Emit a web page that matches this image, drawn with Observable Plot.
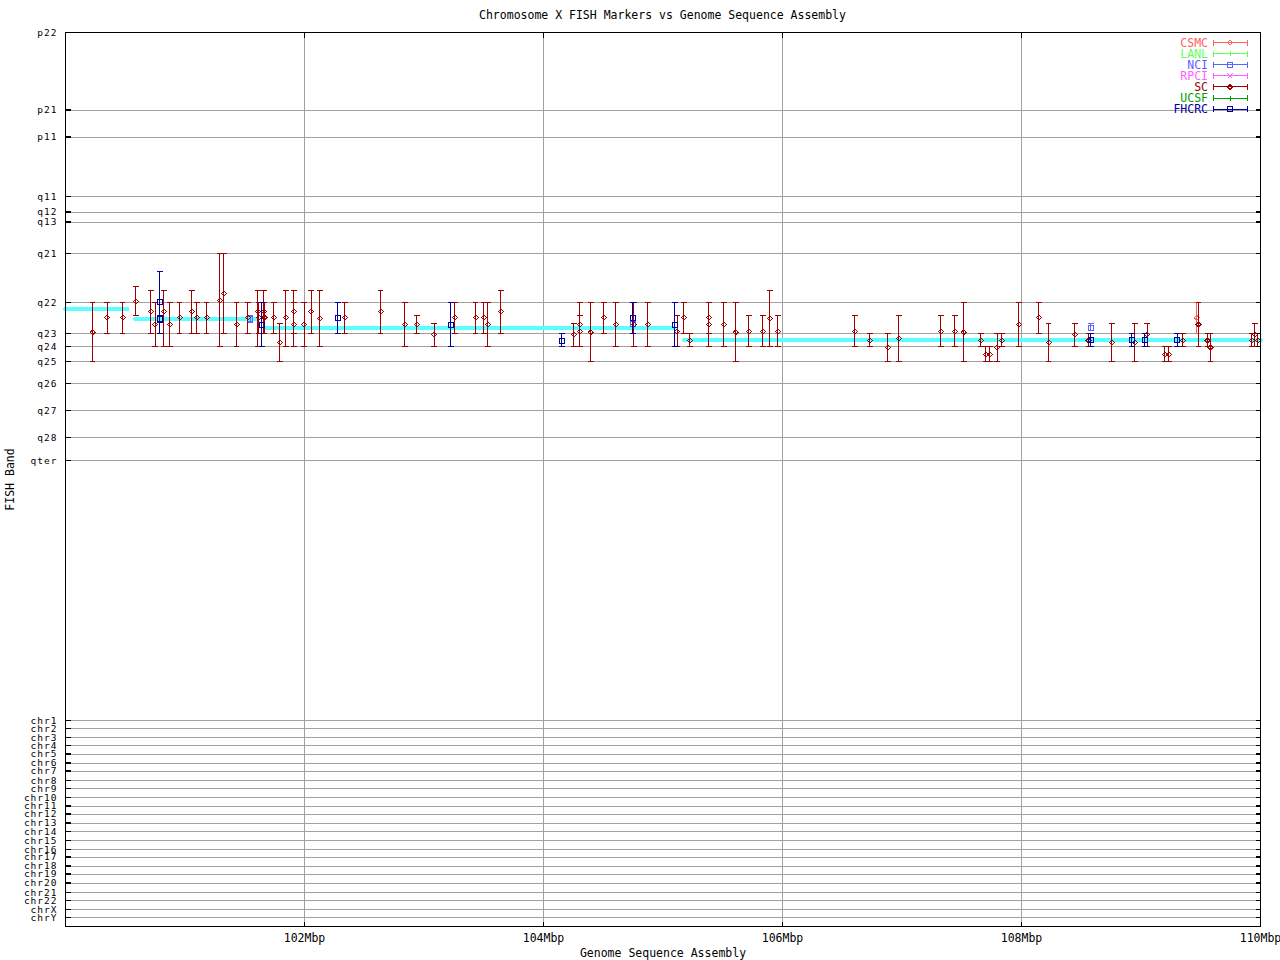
<!DOCTYPE html>
<html>
<head>
<meta charset="utf-8">
<script src="https://cdn.jsdelivr.net/npm/d3@7"></script>
<script src="https://cdn.jsdelivr.net/npm/@observablehq/plot@0.6"></script>
<style>
  body { margin: 0; background: #fff; }
  #wrap { position: relative; width: 1280px; height: 960px; font-family: 'DejaVu Sans Mono', monospace; }
  #title { height: 24px; box-sizing: border-box; padding: 9px 20px 0 65px; font-size: 11.5px; line-height: 12px; text-align: center; color: #000; }
  #legend { position: absolute; left: 0; top: 0; pointer-events: none; }
  g[aria-label="y-axis tick label"] text { font-size: 9.5px; letter-spacing: 1px; }
</style>
</head>
<body>
<div id="wrap">
  <div id="title">Chromosome X FISH Markers vs Genome Sequence Assembly</div>
  <div id="chart"></div>
</div>
<script>
// ---------- tick labels ----------
const xTickValues = [102, 104, 106, 108, 110];
const xGridValues = [102, 104, 106, 108];
const bandLabels = ["p22","p21","p11","q11","q12","q13","q21","q22","q23","q24","q25","q26","q27","q28","qter",
  "chr1","chr2","chr3","chr4","chr5","chr6","chr7","chr8","chr9","chr10","chr11","chr12","chr13","chr14",
  "chr15","chr16","chr17","chr18","chr19","chr20","chr21","chr22","chrX","chrY"];
const bandValues = [0, 7.77, 10.47, 16.40, 17.97, 18.97, 22.10, 27.00, 30.10, 31.40, 32.90, 35.10, 37.80, 40.50, 42.80,
  68.80, 69.60, 70.50, 71.30, 72.17, 73.07, 73.87, 74.80, 75.60, 76.50, 77.37, 78.17, 79.07, 79.90,
  80.80, 81.70, 82.47, 83.37, 84.17, 85.07, 86.00, 86.80, 87.70, 88.50];
const bandDomain = [0, 89.4];
const mbpDomain = [100, 110];

// ---------- sources ----------
const sources = ["CSMC", "LANL", "NCI", "RPCI", "SC", "UCSF", "FHCRC"];
const sourceColors = ["#ff6060", "#60ff60", "#6060ff", "#ff60ff", "#a00000", "#00a000", "#0000a0"];
const sourceSymbols = ["diamond", "plus", "square", "times", "diamond", "plus", "square"];

// ---------- sequence assembly (cyan) ----------
const assemblyStart = [100.0, 100.586, 101.688, 105.18];
const assemblyEnd   = [100.516, 101.604, 105.088, 110.0];
const assemblyBand  = [27.67, 28.67, 29.54, 30.77];

// ---------- FISH markers: [Mbp, band from, band centre, band to] ----------
const CSMC = [
  [109.467, 27.00, 28.54, 30.10]
];
const LANL = [];
const NCI = [
  [101.548, 28.34, 28.67, 29.04],
  [104.747, 28.77, 29.10, 29.37],
  [108.580, 29.10, 29.54, 29.84]
];
const RPCI = [];
const SC = [
  [100.228, 27.00, 29.97, 32.90], [100.349, 27.00, 28.50, 30.10], [100.479, 27.00, 28.50, 30.10],
  [100.588, 25.44, 26.90, 28.30], [100.714, 25.82, 27.90, 30.10], [100.751, 27.00, 29.20, 31.40],
  [100.824, 25.82, 27.90, 31.40], [100.873, 27.00, 29.20, 31.40], [100.956, 27.00, 28.50, 30.10],
  [101.057, 25.82, 27.90, 30.10], [101.099, 27.00, 28.50, 30.10], [101.182, 27.00, 28.50, 30.10],
  [101.291, 22.10, 26.80, 31.40], [101.325, 22.10, 26.10, 30.10], [101.433, 27.00, 29.20, 31.40],
  [101.527, 27.00, 28.50, 30.10], [101.609, 25.82, 27.90, 31.40], [101.619, 27.00, 28.50, 30.10],
  [101.659, 25.82, 27.90, 30.10], [101.665, 27.00, 28.50, 30.10], [101.743, 27.00, 28.50, 30.10],
  [101.793, 29.10, 31.00, 32.90], [101.844, 25.82, 28.50, 31.40], [101.912, 25.82, 27.90, 30.10],
  [101.912, 27.00, 29.20, 31.40], [101.997, 27.00, 29.20, 31.40], [102.056, 25.82, 27.90, 30.10],
  [102.128, 25.82, 28.60, 31.40], [102.337, 27.00, 28.50, 30.10], [102.638, 25.82, 27.90, 30.10],
  [102.839, 27.00, 29.20, 31.40], [102.940, 28.30, 29.20, 30.10], [103.085, 29.10, 30.20, 31.40],
  [103.258, 27.00, 28.50, 30.10], [103.433, 27.00, 28.50, 30.10], [103.500, 27.00, 28.50, 30.10],
  [103.534, 27.00, 29.20, 31.40], [103.643, 25.82, 27.90, 30.10], [104.254, 29.10, 30.20, 31.40],
  [104.304, 27.00, 29.20, 31.40], [104.304, 28.30, 29.90, 31.40], [104.396, 27.00, 29.97, 32.90],
  [104.505, 27.00, 28.50, 30.10], [104.605, 27.00, 29.20, 31.40], [104.756, 27.00, 29.20, 31.40],
  [104.873, 27.00, 29.20, 31.40], [105.119, 28.30, 29.90, 31.40], [105.174, 27.00, 28.50, 30.10],
  [105.224, 30.10, 30.80, 31.40], [105.383, 27.00, 28.50, 30.10], [105.383, 27.00, 29.20, 31.40],
  [105.509, 27.00, 29.20, 31.40], [105.609, 27.00, 29.97, 32.90], [105.718, 28.30, 29.90, 31.40],
  [105.835, 28.30, 29.90, 31.40], [105.894, 25.82, 28.60, 31.40], [105.961, 28.30, 29.90, 31.40],
  [106.605, 28.30, 29.90, 31.40], [106.731, 30.10, 30.80, 31.40], [106.881, 30.10, 31.50, 32.90],
  [106.973, 28.30, 30.60, 32.90], [107.325, 28.30, 29.90, 31.40], [107.442, 28.30, 29.90, 31.40],
  [107.517, 27.00, 29.97, 32.90], [107.659, 30.10, 30.80, 31.40], [107.701, 31.40, 32.20, 32.90],
  [107.735, 31.40, 32.20, 32.90], [107.795, 30.10, 31.50, 32.90], [107.835, 30.10, 30.80, 31.40],
  [107.977, 27.00, 29.20, 31.40], [108.145, 27.00, 28.50, 30.10], [108.228, 29.12, 31.00, 32.90],
  [108.446, 29.12, 30.20, 31.40], [108.561, 30.10, 30.80, 31.40], [108.756, 29.12, 31.00, 32.90],
  [108.948, 29.12, 31.00, 32.90], [109.052, 29.12, 30.20, 31.40], [109.199, 31.40, 32.20, 32.90],
  [109.233, 31.40, 32.20, 32.90], [109.350, 30.10, 30.80, 31.40], [109.481, 27.00, 29.20, 31.40],
  [109.556, 30.10, 30.80, 31.40], [109.582, 30.10, 31.50, 32.90], [109.927, 30.10, 30.80, 31.40],
  [109.952, 29.12, 30.20, 31.40], [109.977, 30.10, 30.80, 31.40]
];
const UCSF = [];
const FHCRC = [
  [100.789, 23.87, 26.97, 30.10], [100.789, 28.30, 28.62, 29.00], [101.643, 27.00, 29.20, 31.40],
  [102.279, 27.00, 28.50, 30.10], [103.224, 27.00, 29.20, 31.40], [104.153, 30.10, 30.80, 31.40],
  [104.747, 27.00, 28.50, 30.10], [105.099, 27.00, 29.20, 31.40], [108.580, 30.10, 30.77, 31.40],
  [108.923, 30.10, 30.77, 31.40], [109.032, 30.10, 30.77, 31.40], [109.303, 30.10, 30.77, 31.40]
];
const markersBySource = [CSMC, LANL, NCI, RPCI, SC, UCSF, FHCRC];

// ---------- symbols ----------
const S = 2.5;
const symbolDefs = {
  diamond: {draw(c) { c.moveTo(0, -S); c.lineTo(S, 0); c.lineTo(0, S); c.lineTo(-S, 0); c.closePath(); }},
  square: {draw(c) { c.moveTo(-S, -S); c.lineTo(S, -S); c.lineTo(S, S); c.lineTo(-S, S); c.closePath(); }},
  plus: {draw(c) { c.moveTo(-S, 0); c.lineTo(S, 0); c.moveTo(0, -S); c.lineTo(0, S); }},
  times: {draw(c) { c.moveTo(-S, -S); c.lineTo(S, S); c.moveTo(-S, S); c.lineTo(S, -S); }}
};
const capSym = {draw(c) { c.moveTo(-2.75, 0); c.lineTo(2.75, 0); }};
const tickLeft = {draw(c) { c.moveTo(0, 0); c.lineTo(5, 0); }};
const tickRight = {draw(c) { c.moveTo(-5, 0); c.lineTo(0, 0); }};
const tickTop = {draw(c) { c.moveTo(0, 0); c.lineTo(0, 5); }};
const tickBottom = {draw(c) { c.moveTo(0, -5); c.lineTo(0, 0); }};

// ---------- build ----------
const labelByValue = new Map(bandValues.map((v, i) => [v, bandLabels[i]]));
const assembly = assemblyStart.flatMap((s, i) => [
  {x: s, y: assemblyBand[i], seg: i},
  {x: assemblyEnd[i], y: assemblyBand[i], seg: i}
]);

const markerMarks = [];
sources.forEach((src, i) => {
  const data = markersBySource[i];
  if (!data.length) return;
  const color = sourceColors[i];
  markerMarks.push(
    Plot.ruleX(data, {x: d => d[0], y1: d => d[1], y2: d => d[3], stroke: color, strokeWidth: 1}),
    Plot.dot(data, {x: d => d[0], y: d => d[1], symbol: capSym, fill: "none", stroke: color, strokeWidth: 1}),
    Plot.dot(data, {x: d => d[0], y: d => d[3], symbol: capSym, fill: "none", stroke: color, strokeWidth: 1}),
    Plot.dot(data, {x: d => d[0], y: d => d[2], symbol: symbolDefs[sourceSymbols[i]], fill: "none", stroke: color, strokeWidth: 1})
  );
});

const chart = Plot.plot({
  width: 1280,
  height: 936,
  marginTop: 8,
  marginBottom: 34,
  marginLeft: 65,
  marginRight: 20,
  style: {fontFamily: "'DejaVu Sans Mono', monospace", fontSize: "11.5px", color: "#000", background: "#fff", shapeRendering: "crispEdges"},
  x: {domain: mbpDomain},
  y: {domain: bandDomain, reverse: true},
  marks: [
    Plot.ruleY(bandValues, {stroke: "#a0a0a0", strokeWidth: 1}),
    Plot.ruleX(xGridValues, {stroke: "#a0a0a0", strokeWidth: 1}),
    Plot.line(assembly, {x: "x", y: "y", z: "seg", stroke: "#5cffff", strokeWidth: 4.5}),
    ...markerMarks,
    Plot.dot(bandValues, {x: () => mbpDomain[0], y: d => d, symbol: tickLeft, fill: "none", stroke: "#000"}),
    Plot.dot(bandValues, {x: () => mbpDomain[1], y: d => d, symbol: tickRight, fill: "none", stroke: "#000"}),
    Plot.dot(xGridValues, {x: d => d, y: () => bandDomain[0], symbol: tickTop, fill: "none", stroke: "#000"}),
    Plot.dot(xGridValues, {x: d => d, y: () => bandDomain[1], symbol: tickBottom, fill: "none", stroke: "#000"}),
    Plot.frame({stroke: "#000"}),
    Plot.axisX({ticks: xTickValues, tickFormat: d => d + "Mbp", tickSize: 0, tickPadding: 7, label: null}),
    Plot.axisY({ticks: bandValues, tickFormat: d => labelByValue.get(d), tickSize: 0, tickPadding: 8, label: null, fontSize: 9.5}),
    Plot.text(["Genome Sequence Assembly"], {frameAnchor: "bottom", dy: 30, text: d => d, fill: "#000"}),
    Plot.text(["FISH Band"], {frameAnchor: "left", dx: -55, rotate: -90, textAnchor: "middle", text: d => d, fill: "#000"})
  ]
});
document.getElementById("chart").appendChild(chart);

// ---------- legend (top-right, inside plot box) ----------
const legend = d3.select("#wrap").append("svg").attr("id", "legend")
  .attr("width", 1280).attr("height", 130)
  .style("font-family", "'DejaVu Sans Mono', monospace").style("font-size", "11.5px")
  .style("shape-rendering", "crispEdges");
sources.forEach((src, i) => {
  const cy = 42.5 + i * 11.1;
  const color = sourceColors[i];
  const g = legend.append("g");
  g.append("text").attr("x", 1208).attr("y", cy).attr("text-anchor", "end")
    .attr("dominant-baseline", "central").attr("fill", color).text(src);
  g.append("path").attr("d", `M1213,${cy}H1247M1213,${cy - 3}V${cy + 3}M1247,${cy - 3}V${cy + 3}`)
    .attr("stroke", color).attr("fill", "none");
  g.append("path").attr("d", d3.symbol(symbolDefs[sourceSymbols[i]])())
    .attr("transform", `translate(1230,${cy})`).attr("stroke", color).attr("fill", "none");
});
</script>
</body>
</html>
